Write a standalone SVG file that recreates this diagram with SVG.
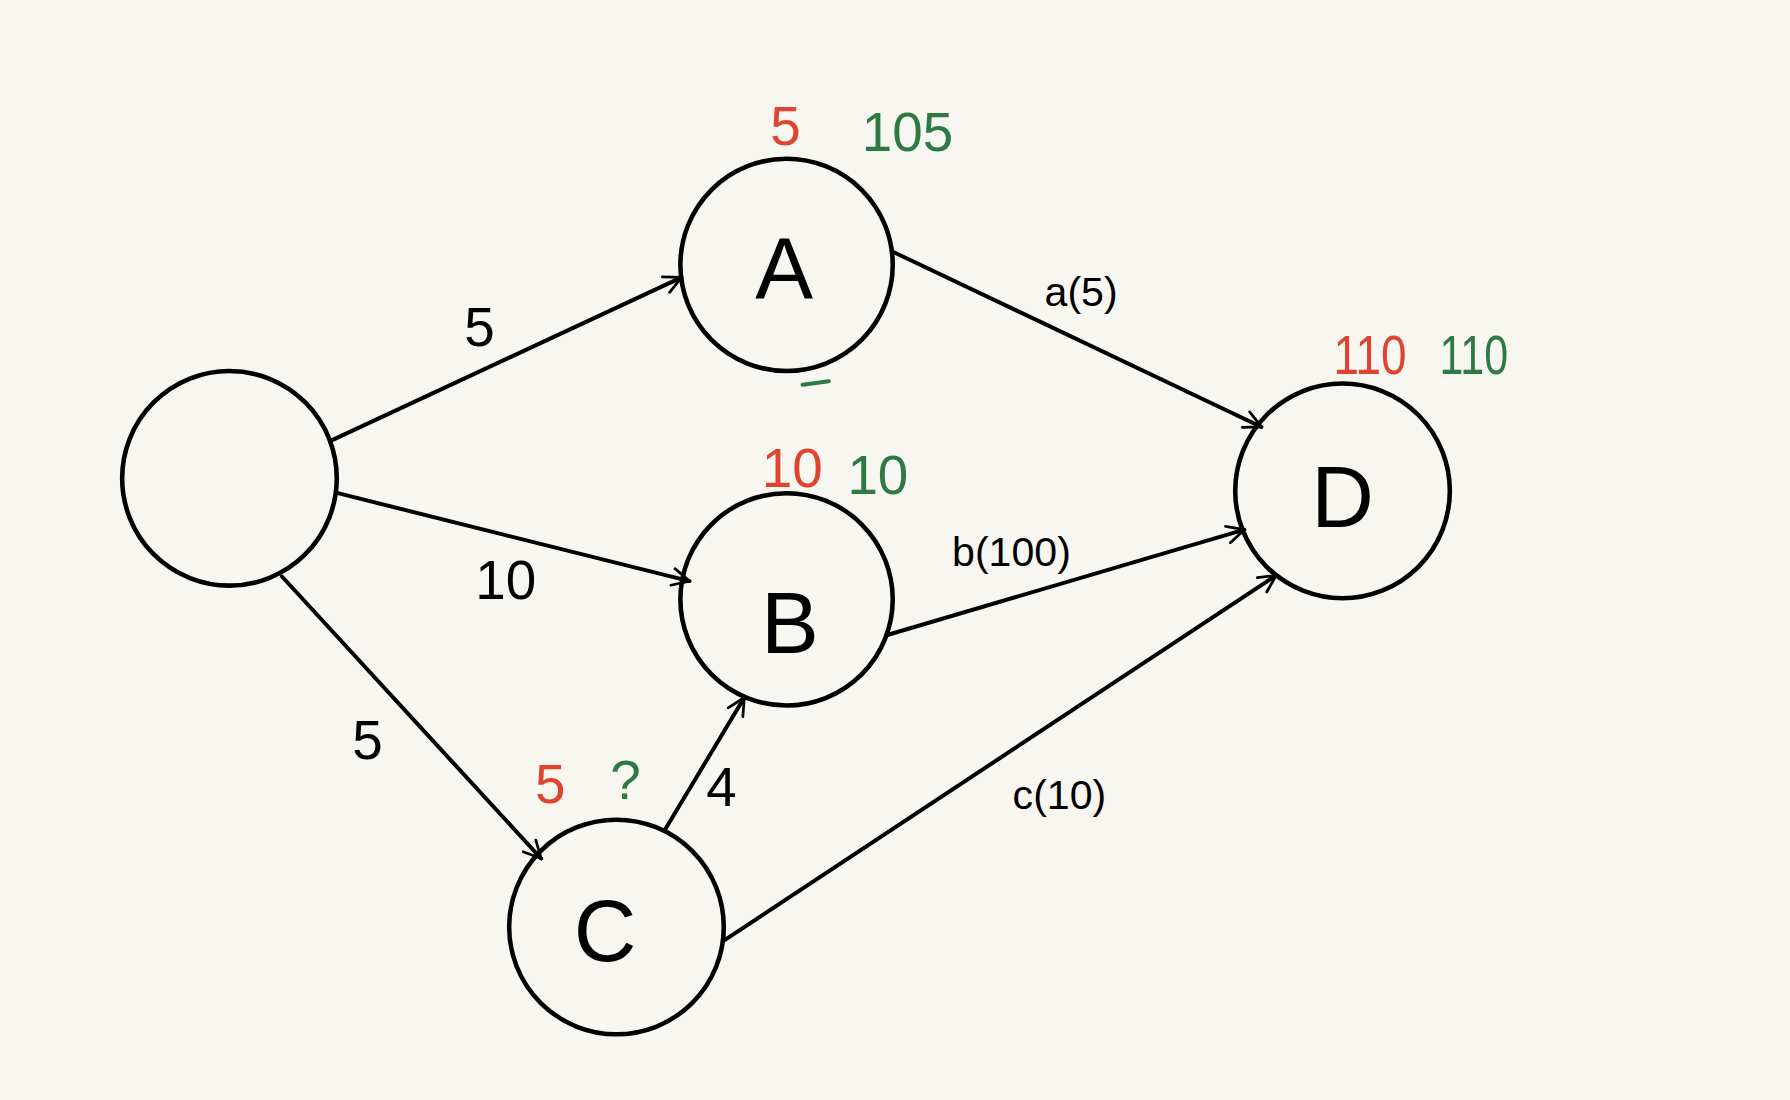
<svg xmlns="http://www.w3.org/2000/svg" width="1790" height="1100" viewBox="0 0 1790 1100">
<defs>
<marker id="arr" viewBox="0 0 12 12" refX="11" refY="6" markerWidth="18" markerHeight="18" markerUnits="userSpaceOnUse" orient="auto">
<path d="M1,1 L11,6 L1,11" fill="none" stroke="#000" stroke-width="1.6" stroke-linecap="round" stroke-linejoin="round"/>
</marker>
<style>
.node{fill:none;stroke:#000;stroke-width:4}
.edge{fill:none;stroke:#000;stroke-width:3.5;stroke-linecap:round}
.lbl{font-family:"Liberation Sans","DejaVu Sans",sans-serif;fill:#000;text-anchor:middle}
.big{font-size:76px}
.el{font-size:48px}
.sm{font-size:36px}
.red{fill:#e0442e}
.grn{fill:#2e7a45}
</style>
</defs>
<rect width="1790" height="1100" fill="#f7f6f1"/>
<g transform="scale(1.1416)">
<g id="connectors">
<line class="edge" x1="290" y1="386" x2="597" y2="243" marker-end="url(#arr)"/>
<line class="edge" x1="296" y1="432" x2="604" y2="509" marker-end="url(#arr)"/>
<line class="edge" x1="247" y1="505" x2="474" y2="752" marker-end="url(#arr)"/>
<line class="edge" x1="783" y1="221" x2="1105" y2="374" marker-end="url(#arr)"/>
<line class="edge" x1="778" y1="556" x2="1090" y2="464" marker-end="url(#arr)"/>
<line class="edge" x1="634" y1="824" x2="1118" y2="504" marker-end="url(#arr)"/>
<line class="edge" x1="583" y1="726" x2="652" y2="611" marker-end="url(#arr)"/>
<text class="lbl el" x="420" y="303">5</text>
<text class="lbl el" x="443" y="525">10</text>
<text class="lbl el" x="322" y="665">5</text>
<text class="lbl el" x="632" y="706">4</text>
<text class="lbl sm" x="947" y="268">a(5)</text>
<text class="lbl sm" x="886" y="496">b(100)</text>
<text class="lbl sm" x="928" y="709">c(10)</text>
</g>
<g id="node-S">
<circle class="node" cx="201" cy="419" r="94"/>
</g>
<g id="node-A">
<circle class="node" cx="689" cy="232" r="93"/>
<text class="lbl big" x="687" y="262">A</text>
<text class="lbl el red" x="688" y="127">5</text>
<text class="lbl el grn" x="795" y="132">105</text>
<line x1="703" y1="337" x2="726" y2="334" stroke="#2e7a45" stroke-width="3.5" stroke-linecap="round"/>
</g>
<g id="node-B">
<circle class="node" cx="689" cy="525" r="93"/>
<text class="lbl big" x="692" y="572">B</text>
<text class="lbl el red" x="694" y="427">10</text>
<text class="lbl el grn" x="769" y="433">10</text>
</g>
<g id="node-C">
<circle class="node" cx="540" cy="812" r="94"/>
<text class="lbl big" x="530" y="842">C</text>
<text class="lbl el red" x="482" y="703">5</text>
<text class="lbl el grn" x="548" y="700">?</text>
</g>
<g id="node-D">
<circle class="node" cx="1176" cy="430" r="94"/>
<text class="lbl big" x="1176" y="462">D</text>
<text class="lbl el red" x="1200" y="328" textLength="64" lengthAdjust="spacingAndGlyphs">110</text>
<text class="lbl el grn" x="1291" y="328" textLength="60" lengthAdjust="spacingAndGlyphs">110</text>
</g>
</g>
</svg>
